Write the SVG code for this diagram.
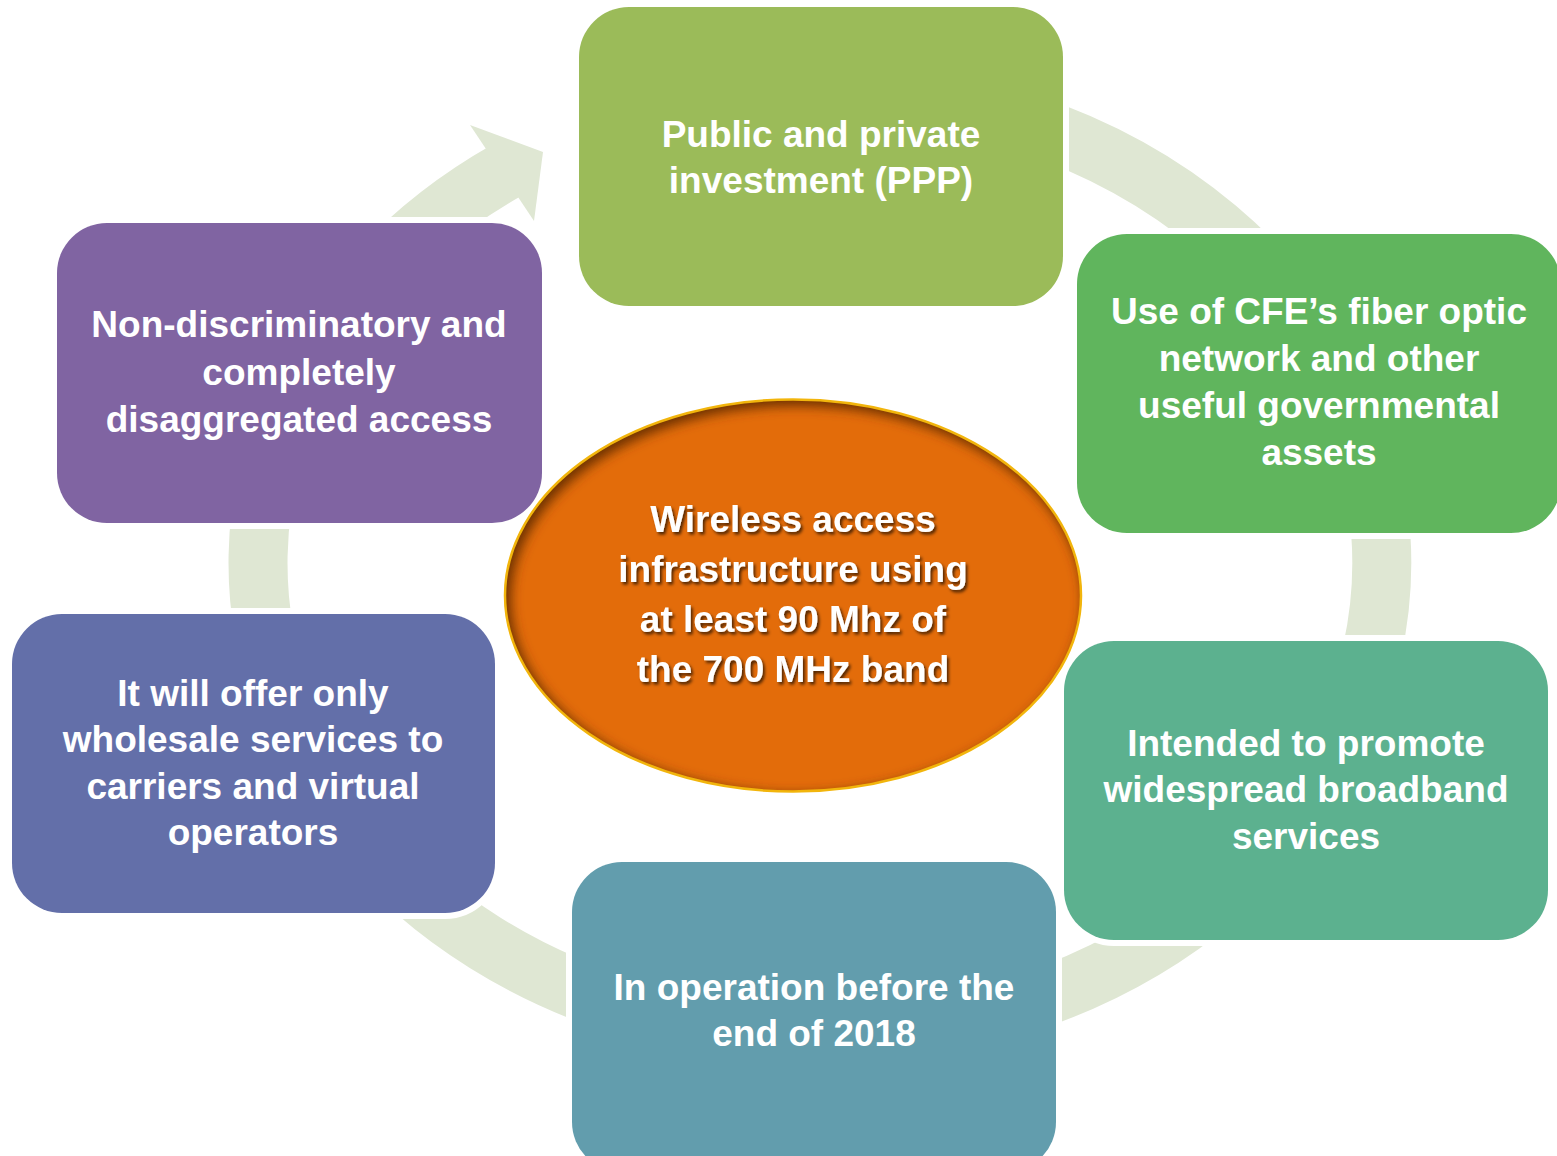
<svg xmlns="http://www.w3.org/2000/svg" width="1557" height="1156" viewBox="0 0 1557 1156">
<defs>
<style>
.box{stroke:#ffffff;stroke-width:12;paint-order:stroke}
.t{font-family:"Liberation Sans",Arial,sans-serif;font-weight:bold;font-size:37px;fill:#ffffff;text-anchor:middle}
.ring{fill:none;stroke:#dfe7d3;stroke-width:59}
</style>
<clipPath id="ec"><ellipse cx="793" cy="595.5" rx="288" ry="196"/></clipPath>
<filter id="blur" x="-20%" y="-20%" width="140%" height="140%"><feGaussianBlur stdDeviation="6"/></filter>
<filter id="ts" x="-10%" y="-30%" width="120%" height="160%"><feDropShadow dx="2" dy="2.5" stdDeviation="1.5" flood-color="#000000" flood-opacity="0.65"/></filter>
</defs>
<rect width="1557" height="1156" fill="#ffffff"/>
<g id="connectors">
<path class="ring" d="M820,90 A562,473 0 0 1 820,1036 A562,473 0 0 1 507.1,170.1"/>
<polygon points="470,125 543,152 534,221" fill="#dfe7d3"/>
</g>
<g id="n-ppp">
<rect class="box" x="579" y="7" width="484" height="299" rx="50" fill="#9bbb59"/>
<text class="t" x="821" y="147">Public and private</text>
<text class="t" x="821" y="193">investment (PPP)</text>
</g>
<g id="n-cfe">
<rect class="box" x="1077" y="234" width="484" height="299" rx="50" fill="#60b55d"/>
<text class="t" x="1319" y="324">Use of CFE’s fiber optic</text>
<text class="t" x="1319" y="371">network and other</text>
<text class="t" x="1319" y="418">useful governmental</text>
<text class="t" x="1319" y="465">assets</text>
</g>
<g id="n-broadband">
<rect class="box" x="1064" y="641" width="484" height="299" rx="50" fill="#5cb18f"/>
<text class="t" x="1306" y="756">Intended to promote</text>
<text class="t" x="1306" y="802">widespread broadband</text>
<text class="t" x="1306" y="849">services</text>
</g>
<g id="n-operation">
<rect class="box" x="572" y="862" width="484" height="310" rx="50" fill="#629dad"/>
<text class="t" x="814" y="1000">In operation before the</text>
<text class="t" x="814" y="1046">end of 2018</text>
</g>
<g id="n-wholesale">
<rect class="box" x="12" y="614" width="483" height="299" rx="50" fill="#636fa9"/>
<text class="t" x="253" y="706">It will offer only</text>
<text class="t" x="253" y="752">wholesale services to</text>
<text class="t" x="253" y="799">carriers and virtual</text>
<text class="t" x="253" y="845">operators</text>
</g>
<g id="n-access">
<rect class="box" x="57" y="223" width="485" height="300" rx="50" fill="#8064a2"/>
<text class="t" x="299" y="337">Non-discriminatory and</text>
<text class="t" x="299" y="385">completely</text>
<text class="t" x="299" y="432">disaggregated access</text>
</g>
<g id="n-center">
<ellipse cx="793" cy="595.5" rx="288" ry="196" fill="#e36c0a"/>
<g clip-path="url(#ec)">
<ellipse cx="797" cy="600" rx="301" ry="209" fill="none" stroke="#6e3200" stroke-width="30" filter="url(#blur)"/>
</g>
<ellipse cx="793" cy="595.5" rx="288" ry="196" fill="none" stroke="#f2b50c" stroke-width="2.5"/>
<g filter="url(#ts)">
<text class="t" x="793" y="532">Wireless access</text>
<text class="t" x="793" y="582">infrastructure using</text>
<text class="t" x="793" y="632">at least 90 Mhz of</text>
<text class="t" x="793" y="682">the 700 MHz band</text>
</g>
</g>
</svg>
